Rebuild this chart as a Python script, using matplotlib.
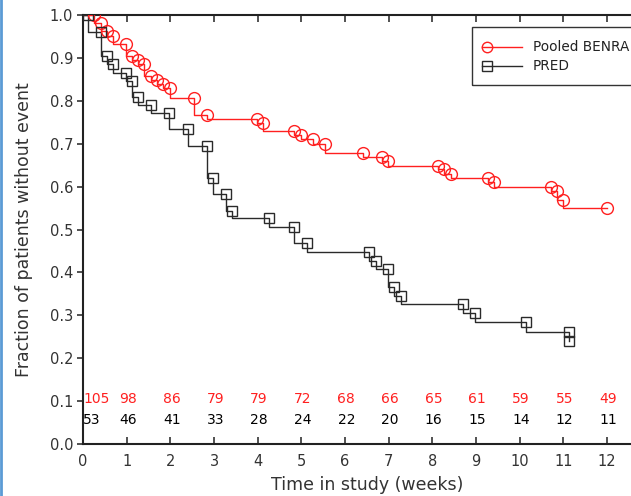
import matplotlib
matplotlib.use("Agg")
import matplotlib.pyplot as plt
from matplotlib.lines import Line2D
from matplotlib.patches import Rectangle

# Pooled BENRA: event times and fraction without event after each event
red_t = [0.25, 0.41, 0.55, 0.69, 0.98, 1.12, 1.26, 1.40, 1.56, 1.69, 1.83, 1.99,
         2.54, 2.84, 3.98, 4.12, 4.83, 4.99, 5.27, 5.54, 6.41, 6.85, 6.98, 8.13,
         8.27, 8.43, 9.27, 9.41, 10.72, 10.85, 10.99]
red_s = [0.981, 0.962, 0.952, 0.933, 0.905, 0.895, 0.886, 0.857, 0.848, 0.838,
         0.829, 0.807, 0.767, 0.757, 0.748, 0.730, 0.720, 0.710, 0.700, 0.679,
         0.669, 0.659, 0.649, 0.640, 0.630, 0.620, 0.610, 0.600, 0.590, 0.569, 0.550]
red_end = 12.0

# PRED
blk_t = [0.11, 0.41, 0.55, 0.69, 0.98, 1.12, 1.26, 1.56, 1.97, 2.40, 2.84, 2.98,
         3.27, 3.41, 4.26, 4.83, 5.13, 6.55, 6.71, 6.98, 7.12, 7.28, 8.70, 8.98,
         10.14, 11.13]
blk_s = [0.960, 0.904, 0.886, 0.865, 0.846, 0.809, 0.790, 0.772, 0.734, 0.695,
         0.620, 0.583, 0.543, 0.527, 0.506, 0.469, 0.448, 0.427, 0.408, 0.366,
         0.345, 0.326, 0.305, 0.284, 0.261, 0.240]
blk_end = 11.13

# numbers at risk
risk_weeks = list(range(13))
risk_red = [105, 98, 86, 79, 79, 72, 68, 66, 65, 61, 59, 55, 49]
risk_blk = [53, 46, 41, 33, 28, 24, 22, 20, 16, 15, 14, 12, 11]

RED = '#ff2020'
BLK = '#2a2a2a'
W, H = 631, 496

fig = plt.figure(figsize=(W / 100, H / 100), dpi=100)
ax = fig.add_axes([83 / W, 52 / H, 13 * 43.67 / W, 429 / H])


def draw_km(t, s, end, color, marker, ms):
    xs = [0.0] + t + [end]
    ys = [1.0] + s + [s[-1]]
    ax.step(xs, ys, where='post', color=color, lw=1.0, zorder=3)
    before = [1.0] + s[:-1]
    mx = t + [end]
    my = before + [s[-1]]
    ax.plot(mx, my, ls='none', marker=marker, ms=ms, mfc='none', mec=color,
            mew=1.0, zorder=4)


draw_km(red_t, red_s, red_end, RED, 'o', 8.5)
draw_km(blk_t, blk_s, blk_end, BLK, 's', 7.5)

for i, w in enumerate(risk_weeks):
    ha = 'left' if i == 0 else 'center'
    ax.text(w + (0.02 if i == 0 else 0.03), 0.104, str(risk_red[i]), color=RED,
            fontsize=10, ha=ha, va='center')
    ax.text(w + (0.0 if i == 0 else 0.03), 0.055, str(risk_blk[i]), color='black',
            fontsize=10, ha=ha, va='center')

ax.set_xlim(0, 13)
ax.set_ylim(0, 1.0)
ax.set_xticks(range(13))
ax.set_yticks([i / 10 for i in range(11)])
ax.set_yticklabels([f'{i / 10:.1f}' for i in range(11)])
ax.tick_params(axis='x', direction='in', top=True, length=5, width=1.2,
               labelsize=10.5, pad=7, colors='#333333')
ax.tick_params(axis='y', direction='out', length=4, width=1.2, labelsize=10.5,
               pad=3, colors='#333333')
for sp in ax.spines.values():
    sp.set_linewidth(1.5)
    sp.set_color('#222222')

ax.set_xlabel('Time in study (weeks)', fontsize=12.5, color='#333333', labelpad=5)
ax.set_ylabel('Fraction of patients without event', fontsize=12.5,
              color='#333333', labelpad=12)

# legend drawn by hand (box runs past the right edge in the original)
fig.patches.append(Rectangle((472 / W, 1 - 85 / H), 260 / W, 58 / H,
                             transform=fig.transFigure, fill=False,
                             ec='#333333', lw=1.0, zorder=10))
for yy, col, mk, lab in [(47, RED, 'o', 'Pooled BENRA'), (66, BLK, 's', 'PRED')]:
    fig.lines.append(Line2D([482 / W, 522 / W], [1 - yy / H, 1 - yy / H],
                            transform=fig.transFigure, color=col, lw=1.0))
    fig.lines.append(Line2D([487 / W], [1 - yy / H], transform=fig.transFigure,
                            marker=mk, ms=7.5, mfc='none', mec=col, mew=1.0))
    fig.text(533 / W, 1 - yy / H, lab, fontsize=9.8, color='#222222',
             va='center', ha='left')

# thin blue border at the left edge of the source image
fig.lines.append(Line2D([1 / W, 1 / W], [0, 1], transform=fig.transFigure,
                        color='#5b9bd5', lw=2.0))

fig.savefig('out.png', dpi=100)
